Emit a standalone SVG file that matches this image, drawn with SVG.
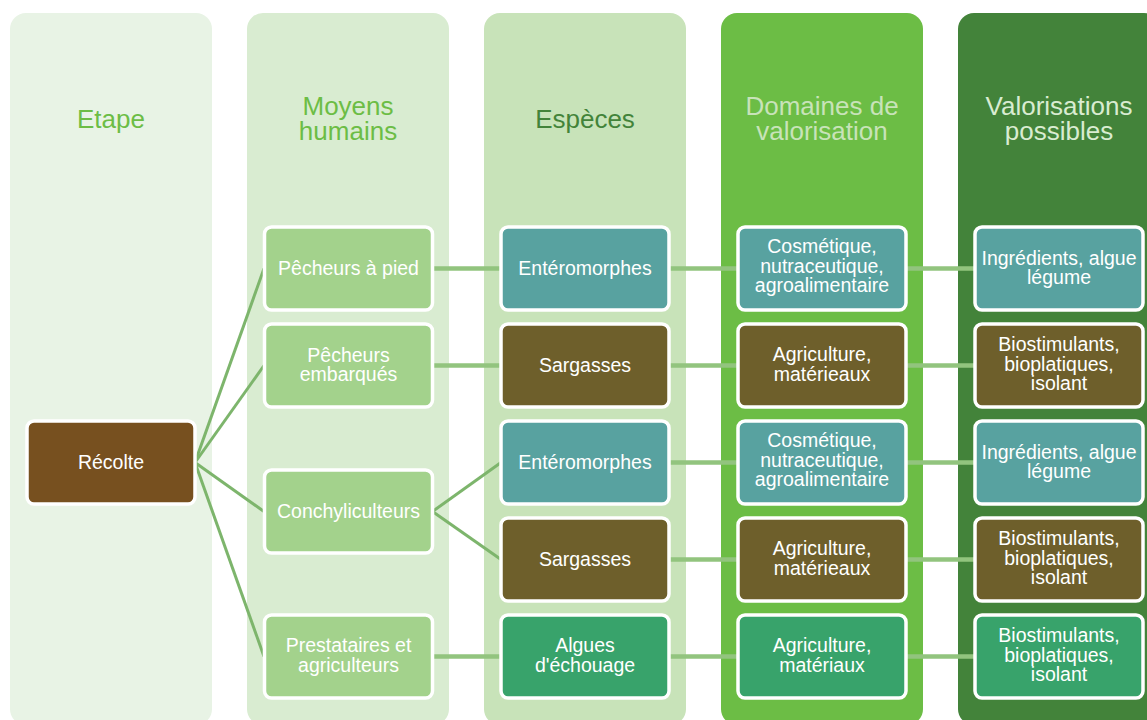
<svg xmlns="http://www.w3.org/2000/svg" width="1147" height="720" viewBox="0 0 1147 720">
<style>
  text { font-family: "Liberation Sans", Arial, sans-serif; text-anchor: middle; }
  .hd { font-size: 26px; }
  .nt { font-size: 19.5px; fill: #ffffff; }
  .node { stroke: #ffffff; stroke-width: 3.5; }
  .c-light { fill: #a3d28c; }
  .c-teal { fill: #58a2a0; }
  .c-olive { fill: #6e5f2b; }
  .c-green { fill: #38a36b; }
  .c-brown { fill: #77501f; }
  .diag { stroke: #7db56c; stroke-width: 3; fill: none; }
  .hor { stroke: #92c47e; stroke-width: 4.5; fill: none; }
</style>
<rect width="1147" height="720" fill="#ffffff"/>
<g id="columns">
  <rect x="10" y="13" width="202" height="712" rx="16" fill="#e8f3e5"/>
  <rect x="247" y="13" width="202" height="712" rx="16" fill="#d9ecd1"/>
  <rect x="484" y="13" width="202" height="712" rx="16" fill="#c8e3b9"/>
  <rect x="721" y="13" width="202" height="712" rx="16" fill="#6cbd45"/>
  <rect x="958" y="13" width="202" height="712" rx="16" fill="#43833a"/>
  <text class="hd" x="111" y="128" fill="#6cbd45">Etape</text>
  <text class="hd" x="348" y="115" fill="#6cbd45">Moyens</text>
  <text class="hd" x="348" y="140" fill="#6cbd45">humains</text>
  <text class="hd" x="585" y="128" fill="#43833a">Espèces</text>
  <text class="hd" x="822" y="115" fill="#c8e3b9">Domaines de</text>
  <text class="hd" x="822" y="140" fill="#c8e3b9">valorisation</text>
  <text class="hd" x="1059" y="115" fill="#d9ecd1">Valorisations</text>
  <text class="hd" x="1059" y="140" fill="#d9ecd1">possibles</text>
</g>
<g id="connectors">
  <line class="diag" x1="195" y1="462.5" x2="264" y2="268.5"/>
  <line class="diag" x1="195" y1="462.5" x2="264" y2="365.5"/>
  <line class="diag" x1="195" y1="462.5" x2="264" y2="511.5"/>
  <line class="diag" x1="195" y1="462.5" x2="264" y2="656.5"/>
  <line class="diag" x1="432.5" y1="511.5" x2="501" y2="462.5"/>
  <line class="diag" x1="432.5" y1="511.5" x2="501" y2="559.5"/>
  <line class="hor" x1="432.5" y1="268.5" x2="501" y2="268.5"/>
  <line class="hor" x1="432.5" y1="365.5" x2="501" y2="365.5"/>
  <line class="hor" x1="432.5" y1="656.5" x2="501" y2="656.5"/>
  <line class="hor" x1="669" y1="268.5" x2="738" y2="268.5"/>
  <line class="hor" x1="669" y1="365.5" x2="738" y2="365.5"/>
  <line class="hor" x1="669" y1="462.5" x2="738" y2="462.5"/>
  <line class="hor" x1="669" y1="559.5" x2="738" y2="559.5"/>
  <line class="hor" x1="669" y1="656.5" x2="738" y2="656.5"/>
  <line class="hor" x1="906" y1="268.5" x2="975" y2="268.5"/>
  <line class="hor" x1="906" y1="365.5" x2="975" y2="365.5"/>
  <line class="hor" x1="906" y1="462.5" x2="975" y2="462.5"/>
  <line class="hor" x1="906" y1="559.5" x2="975" y2="559.5"/>
  <line class="hor" x1="906" y1="656.5" x2="975" y2="656.5"/>
</g>
<g id="recolte">
  <rect class="node c-brown" x="27" y="421" width="168" height="83" rx="7"/>
  <text class="nt" x="111" y="469">Récolte</text>
</g>
<g id="pecheurs-pied">
  <rect class="node c-light" x="264.5" y="227" width="168" height="83" rx="7"/>
  <text class="nt" x="348.5" y="275">Pêcheurs à pied</text>
</g>
<g id="pecheurs-embarques">
  <rect class="node c-light" x="264.5" y="324" width="168" height="83" rx="7"/>
  <text class="nt" x="348.5" y="361.5">Pêcheurs</text>
  <text class="nt" x="348.5" y="381">embarqués</text>
</g>
<g id="conchyliculteurs">
  <rect class="node c-light" x="264.5" y="470" width="168" height="83" rx="7"/>
  <text class="nt" x="348.5" y="518">Conchyliculteurs</text>
</g>
<g id="prestataires">
  <rect class="node c-light" x="264.5" y="615" width="168" height="83" rx="7"/>
  <text class="nt" x="348.5" y="652">Prestataires et</text>
  <text class="nt" x="348.5" y="671.5">agriculteurs</text>
</g>
<g id="enteromorphes-1">
  <rect class="node c-teal" x="501" y="227" width="168" height="83" rx="7"/>
  <text class="nt" x="585" y="275">Entéromorphes</text>
</g>
<g id="sargasses-1">
  <rect class="node c-olive" x="501" y="324" width="168" height="83" rx="7"/>
  <text class="nt" x="585" y="372">Sargasses</text>
</g>
<g id="enteromorphes-2">
  <rect class="node c-teal" x="501" y="421" width="168" height="83" rx="7"/>
  <text class="nt" x="585" y="469">Entéromorphes</text>
</g>
<g id="sargasses-2">
  <rect class="node c-olive" x="501" y="518" width="168" height="83" rx="7"/>
  <text class="nt" x="585" y="566">Sargasses</text>
</g>
<g id="algues">
  <rect class="node c-green" x="501" y="615" width="168" height="83" rx="7"/>
  <text class="nt" x="585" y="652">Algues</text>
  <text class="nt" x="585" y="671.5">d'échouage</text>
</g>
<g id="domaine-1">
  <rect class="node c-teal" x="738" y="227" width="168" height="83" rx="7"/>
  <text class="nt" x="822" y="253">Cosmétique,</text>
  <text class="nt" x="822" y="272.5">nutraceutique,</text>
  <text class="nt" x="822" y="292">agroalimentaire</text>
</g>
<g id="domaine-2">
  <rect class="node c-olive" x="738" y="324" width="168" height="83" rx="7"/>
  <text class="nt" x="822" y="361">Agriculture,</text>
  <text class="nt" x="822" y="380.5">matérieaux</text>
</g>
<g id="domaine-3">
  <rect class="node c-teal" x="738" y="421" width="168" height="83" rx="7"/>
  <text class="nt" x="822" y="447">Cosmétique,</text>
  <text class="nt" x="822" y="466.5">nutraceutique,</text>
  <text class="nt" x="822" y="486">agroalimentaire</text>
</g>
<g id="domaine-4">
  <rect class="node c-olive" x="738" y="518" width="168" height="83" rx="7"/>
  <text class="nt" x="822" y="555">Agriculture,</text>
  <text class="nt" x="822" y="574.5">matérieaux</text>
</g>
<g id="domaine-5">
  <rect class="node c-green" x="738" y="615" width="168" height="83" rx="7"/>
  <text class="nt" x="822" y="652">Agriculture,</text>
  <text class="nt" x="822" y="671.5">matériaux</text>
</g>
<g id="valorisation-1">
  <rect class="node c-teal" x="975" y="227" width="168" height="83" rx="7"/>
  <text class="nt" x="1059" y="265">Ingrédients, algue</text>
  <text class="nt" x="1059" y="283.5">légume</text>
</g>
<g id="valorisation-2">
  <rect class="node c-olive" x="975" y="324" width="168" height="83" rx="7"/>
  <text class="nt" x="1059" y="351">Biostimulants,</text>
  <text class="nt" x="1059" y="370.5">bioplatiques,</text>
  <text class="nt" x="1059" y="390">isolant</text>
</g>
<g id="valorisation-3">
  <rect class="node c-teal" x="975" y="421" width="168" height="83" rx="7"/>
  <text class="nt" x="1059" y="459">Ingrédients, algue</text>
  <text class="nt" x="1059" y="477.5">légume</text>
</g>
<g id="valorisation-4">
  <rect class="node c-olive" x="975" y="518" width="168" height="83" rx="7"/>
  <text class="nt" x="1059" y="545">Biostimulants,</text>
  <text class="nt" x="1059" y="564.5">bioplatiques,</text>
  <text class="nt" x="1059" y="584">isolant</text>
</g>
<g id="valorisation-5">
  <rect class="node c-green" x="975" y="615" width="168" height="83" rx="7"/>
  <text class="nt" x="1059" y="642">Biostimulants,</text>
  <text class="nt" x="1059" y="661.5">bioplatiques,</text>
  <text class="nt" x="1059" y="681">isolant</text>
</g>
</svg>
